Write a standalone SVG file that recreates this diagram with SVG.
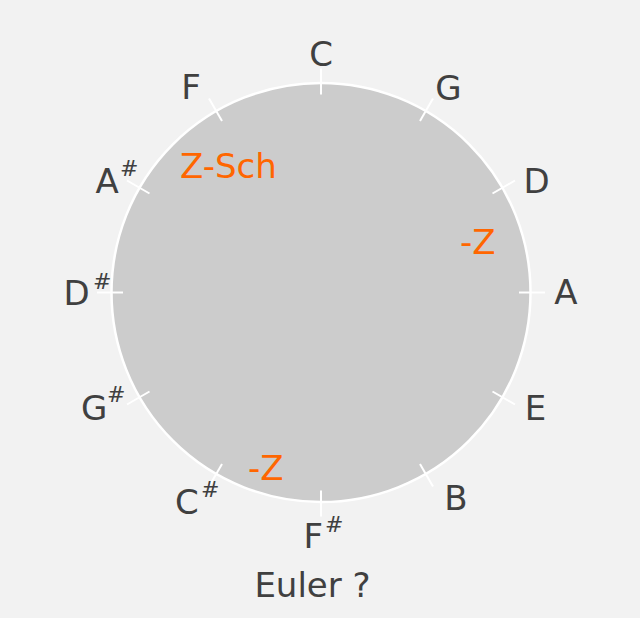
<svg xmlns="http://www.w3.org/2000/svg" width="640" height="618" viewBox="0 0 640 618">
<style>
.lb{font-family:"DejaVu Sans",Verdana,sans-serif;font-size:34px;fill:#404040}
.sh{font-size:22px}
.or{font-family:"DejaVu Sans",Verdana,sans-serif;font-size:34px;fill:#FF6600}
.tk{stroke:#FFFFFF;stroke-width:2}
</style>
<rect x="0" y="0" width="640" height="618" fill="#F2F2F2"/>
<g id="circle">
<circle cx="321" cy="292.5" r="209.5" fill="#CCCCCC" stroke="#FFFFFF" stroke-width="2.5"/>
</g>
<g id="connectors">
<line class="tk" x1="321" y1="94.5" x2="321" y2="68.5"/>
<line class="tk" x1="420" y1="121" x2="433" y2="98.5"/>
<line class="tk" x1="492.5" y1="193.5" x2="515" y2="180.5"/>
<line class="tk" x1="519" y1="292.5" x2="545" y2="292.5"/>
<line class="tk" x1="492.5" y1="391.5" x2="515" y2="404.5"/>
<line class="tk" x1="420" y1="464" x2="433" y2="486.5"/>
<line class="tk" x1="321" y1="490.5" x2="321" y2="516.5"/>
<line class="tk" x1="222" y1="464" x2="209" y2="486.5"/>
<line class="tk" x1="149.5" y1="391.5" x2="127" y2="404.5"/>
<line class="tk" x1="123" y1="292.5" x2="97" y2="292.5"/>
<line class="tk" x1="149.5" y1="193.5" x2="127" y2="180.5"/>
<line class="tk" x1="222" y1="121" x2="209" y2="98.5"/>
</g>
<g id="note-C"><text class="lb" x="321" y="66" text-anchor="middle">C</text></g>
<g id="note-G"><text class="lb" x="448.5" y="100" text-anchor="middle">G</text></g>
<g id="note-D"><text class="lb" x="536.5" y="193" text-anchor="middle">D</text></g>
<g id="note-A"><text class="lb" x="566" y="304" text-anchor="middle">A</text></g>
<g id="note-E"><text class="lb" x="535.5" y="420" text-anchor="middle">E</text></g>
<g id="note-B"><text class="lb" x="456" y="510" text-anchor="middle">B</text></g>
<g id="note-Fs"><text class="lb" x="303.6" y="548">F<tspan class="sh" x="325" y="532">#</tspan></text></g>
<g id="note-Cs"><text class="lb" x="175" y="514">C<tspan class="sh" x="201" y="497">#</tspan></text></g>
<g id="note-Gs"><text class="lb" x="81" y="419.5">G<tspan class="sh" x="107" y="402">#</tspan></text></g>
<g id="note-Ds"><text class="lb" x="63.6" y="305">D<tspan class="sh" x="93" y="289">#</tspan></text></g>
<g id="note-As"><text class="lb" x="95.5" y="193">A<tspan class="sh" x="120" y="176">#</tspan></text></g>
<g id="note-F"><text class="lb" x="191" y="99" text-anchor="middle">F</text></g>
<g id="label-zsch"><text class="or" x="180" y="178">Z-Sch</text></g>
<g id="label-z1"><text class="or" x="460" y="254">-Z</text></g>
<g id="label-z2"><text class="or" x="248" y="480">-Z</text></g>
<g id="title"><text class="lb" x="312.5" y="597" text-anchor="middle">Euler ?</text></g>
</svg>
